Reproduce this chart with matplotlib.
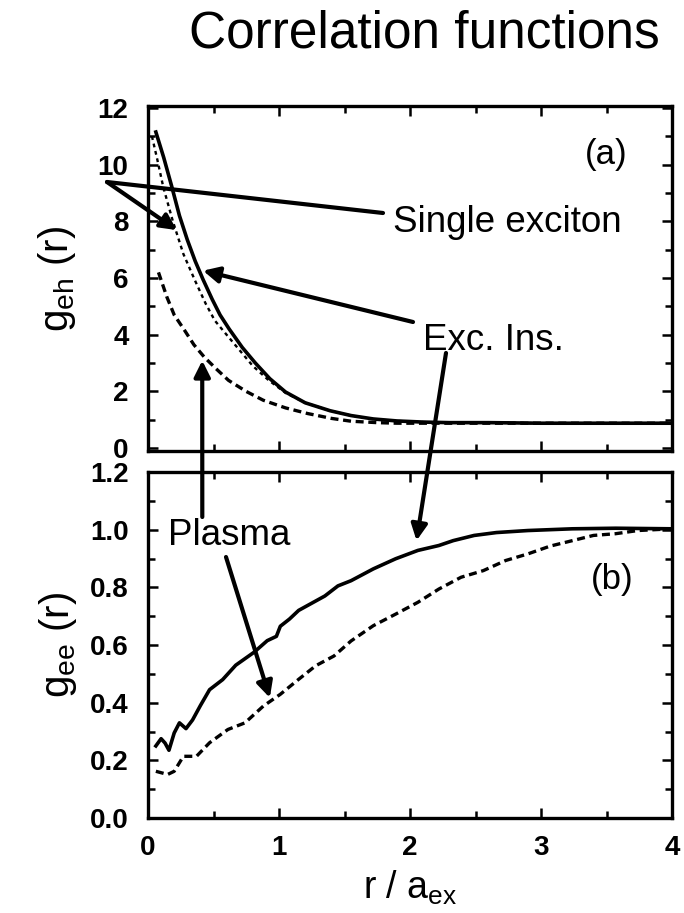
import matplotlib
matplotlib.use("Agg")
import matplotlib.pyplot as plt
from matplotlib.ticker import MultipleLocator

plt.rcParams['font.family'] = ['Liberation Sans', 'DejaVu Sans']
plt.rcParams['mathtext.fontset'] = 'custom'
plt.rcParams['mathtext.rm'] = 'Liberation Sans'

# ---------------- data ----------------
# panel (a): electron-hole correlation g_eh(r)
r_a_excins = [0.06, 0.12, 0.18, 0.24, 0.30, 0.36, 0.42, 0.49, 0.55, 0.62, 0.72, 0.82,
              0.93, 1.05, 1.2, 1.39, 1.55, 1.72, 1.9, 2.1, 2.3, 2.6, 3.0, 3.5, 4.0]
g_a_excins = [11.15, 10.25, 9.25, 8.2, 7.35, 6.6, 5.95, 5.25, 4.7, 4.2, 3.55, 3.0,
              2.45, 1.98, 1.6, 1.32, 1.15, 1.03, 0.96, 0.92, 0.9, 0.9, 0.88, 0.88, 0.88]
r_a_single = [0.03, 0.07, 0.117, 0.19, 0.27, 0.36, 0.44, 0.51, 0.6, 0.7, 0.8, 0.92,
              1.05, 1.2, 1.39, 1.55, 1.72, 1.9, 2.1, 2.3, 2.6, 3.0, 3.5, 4.0]
g_a_single = [11.0, 10.2, 9.2, 8.0, 6.85, 5.9, 5.1, 4.5, 4.0, 3.45, 2.9, 2.4,
              1.95, 1.6, 1.32, 1.15, 1.02, 0.96, 0.92, 0.9, 0.9, 0.88, 0.88, 0.88]
r_a_plasma = [0.08, 0.145, 0.2, 0.28, 0.35, 0.43, 0.52, 0.615, 0.75, 0.88, 1.05, 1.22,
              1.4, 1.55, 1.75, 1.9, 2.2, 2.5, 3.0, 3.5, 4.0]
g_a_plasma = [6.2, 5.32, 4.7, 4.15, 3.65, 3.21, 2.8, 2.39, 2.0, 1.69, 1.42, 1.22,
              1.05, 0.95, 0.9, 0.88, 0.88, 0.88, 0.88, 0.88, 0.88]

# panel (b): electron-electron correlation g_ee(r)
r_b_excins = [0.06, 0.1, 0.13, 0.16, 0.2, 0.24, 0.29, 0.34, 0.40, 0.47, 0.57, 0.67,
              0.81, 0.91, 0.98, 1.01, 1.08, 1.15, 1.21, 1.35, 1.45, 1.55, 1.72, 1.89,
              2.06, 2.22, 2.33, 2.49, 2.66, 2.9, 3.24, 3.57, 4.0]
g_b_excins = [0.25, 0.275, 0.26, 0.235, 0.295, 0.33, 0.31, 0.34, 0.39, 0.445, 0.48, 0.53,
              0.575, 0.615, 0.63, 0.665, 0.69, 0.72, 0.735, 0.77, 0.805, 0.823, 0.864, 0.899,
              0.928, 0.945, 0.962, 0.98, 0.99, 0.997, 1.003, 1.005, 1.003]
r_b_plasma = [0.06, 0.15, 0.2, 0.27, 0.37, 0.47, 0.61, 0.74, 0.88, 1.01, 1.15, 1.28,
              1.42, 1.55, 1.72, 1.89, 2.06, 2.22, 2.39, 2.56, 2.73, 2.9, 3.07, 3.24,
              3.4, 3.57, 3.74, 4.0]
g_b_plasma = [0.162, 0.151, 0.162, 0.214, 0.214, 0.261, 0.307, 0.33, 0.388, 0.429, 0.481, 0.528,
              0.562, 0.614, 0.667, 0.707, 0.748, 0.794, 0.835, 0.858, 0.893, 0.916, 0.943, 0.962,
              0.98, 0.986, 0.997, 1.003]

yticks_a = [0, 2, 4, 6, 8, 10, 12]
yticks_b = [0.0, 0.2, 0.4, 0.6, 0.8, 1.0, 1.2]
xticks = [0, 1, 2, 3, 4]

W, H = 684, 913
fig = plt.figure(figsize=(W / 100, H / 100), dpi=100)

def box(left, top, right, bottom):
    return [left / W, (H - bottom) / H, (right - left) / W, (bottom - top) / H]

ax1 = fig.add_axes(box(148, 106.5, 672, 451))
ax2 = fig.add_axes(box(148, 472, 672, 818))

solid = dict(color='black', lw=2.6, solid_joinstyle='round')
dashed = dict(color='black', lw=2.4, dashes=(2.4, 1.4))
dotted = dict(color='black', lw=1.7, dashes=(1.6, 1.6))

ax1.plot(r_a_excins, g_a_excins, **solid)
ax1.plot(r_a_single, g_a_single, **dotted)
ax1.plot(r_a_plasma, g_a_plasma, **dashed)
ax2.plot(r_b_excins, g_b_excins, **solid)
ax2.plot(r_b_plasma, g_b_plasma, **dashed)

tickfont = dict(fontsize=20, fontweight='bold')
for ax in (ax1, ax2):
    ax.set_facecolor('none')
    ax.set_xlim(0, 4)
    ax.xaxis.set_major_locator(MultipleLocator(1))
    ax.xaxis.set_minor_locator(MultipleLocator(0.5))
    ax.tick_params(which='both', direction='in', top=True, right=True, width=1.8, color='black')
    ax.tick_params(which='major', length=7, pad=14)
    ax.tick_params(which='minor', length=5)
    for s in ax.spines.values():
        s.set_linewidth(2.4)

ax1.set_ylim(-0.1, 12.05)
ax1.set_yticks(yticks_a)
ax1.set_yticklabels([str(v) for v in yticks_a], **tickfont)
ax1.yaxis.set_minor_locator(MultipleLocator(1))
ax1.set_xticks(xticks)
ax1.set_xticklabels([])

ax2.set_ylim(0, 1.2)
ax2.set_yticks(yticks_b)
ax2.set_yticklabels([f"{v:.1f}" for v in yticks_b], **tickfont)
ax2.yaxis.set_minor_locator(MultipleLocator(0.1))
ax2.set_xticks(xticks)
ax2.set_xticklabels([str(v) for v in xticks], **tickfont)
ax2.tick_params(axis='x', which='major', pad=12)

ax1.set_ylabel(r"g$_\mathregular{eh}$ (r)", fontsize=29, labelpad=14)
ax2.set_ylabel(r"g$_\mathregular{ee}$ (r)", fontsize=29, labelpad=8)
ax2.set_xlabel(r"r / a$_\mathregular{ex}$", fontsize=27, labelpad=6)

ax1.text(0.915, 0.86, "(a)", transform=ax1.transAxes, ha='right', va='center', fontsize=25)
ax2.text(0.926, 0.688, "(b)", transform=ax2.transAxes, ha='right', va='center', fontsize=25)

# title and annotation labels
def fpx(x, y):
    return (x / W, (H - y) / H)

fig.text(*fpx(189, 48), "Correlation functions", fontsize=37, ha='left', va='baseline')
fig.text(*fpx(393, 231.7), "Single exciton", fontsize=26.5, ha='left', va='baseline')
fig.text(*fpx(423, 350), "Exc. Ins.", fontsize=26.5, ha='left', va='baseline')
fig.text(*fpx(168, 545), "Plasma", fontsize=26.5, ha='left', va='baseline')

arrow = dict(arrowstyle='-|>', lw=3, color='black', mutation_scale=24,
             shrinkA=0, shrinkB=0)
plain = dict(arrowstyle='-', lw=3, color='black', shrinkA=0, shrinkB=0)

def px(x, y):
    return (x, H - y)

# Single exciton
ax1.annotate("", xy=px(383, 213), xycoords='figure pixels',
             xytext=px(107, 182), textcoords='figure pixels', arrowprops=plain,
             annotation_clip=False)
ax1.annotate("", xy=(0.22, 7.69), xycoords='data',
             xytext=px(107, 182), textcoords='figure pixels', arrowprops=arrow,
             annotation_clip=False)
# Exc. Ins.
ax1.annotate("", xy=(0.42, 6.26), xycoords='data',
             xytext=px(413, 322), textcoords='figure pixels', arrowprops=arrow,
             annotation_clip=False)
ax2.annotate("", xy=(2.05, 0.962), xycoords='data',
             xytext=px(446, 353), textcoords='figure pixels', arrowprops=arrow,
             annotation_clip=False)
# Plasma
ax1.annotate("", xy=(0.414, 3.09), xycoords='data',
             xytext=px(202.3, 517), textcoords='figure pixels', arrowprops=arrow,
             annotation_clip=False)
ax2.annotate("", xy=(0.93, 0.417), xycoords='data',
             xytext=px(226, 557), textcoords='figure pixels', arrowprops=arrow,
             annotation_clip=False)

fig.savefig("out.png", dpi=100)
